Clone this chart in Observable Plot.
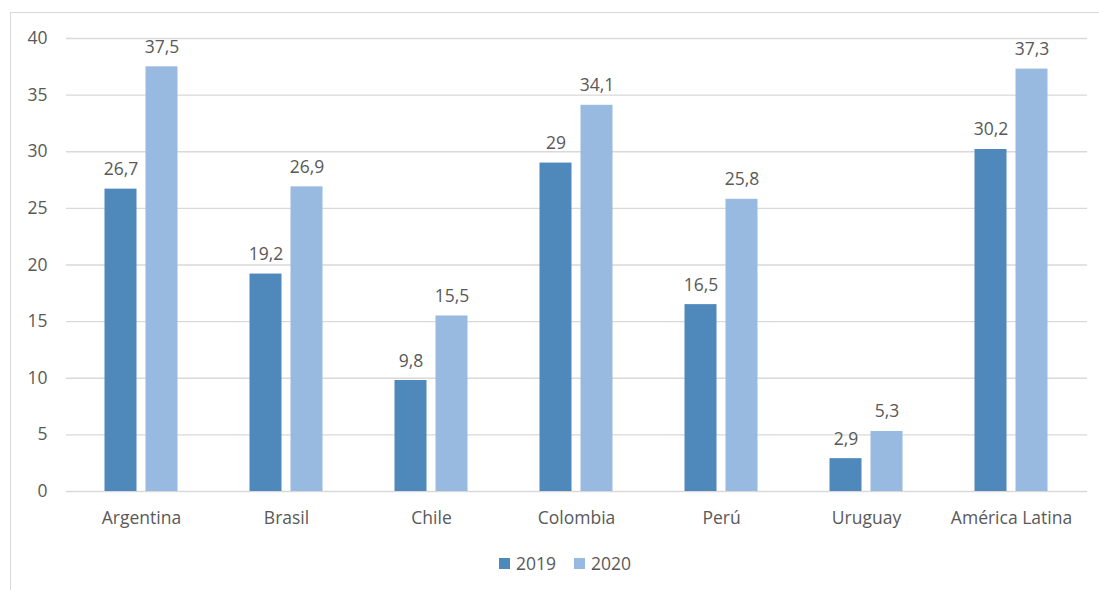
<!DOCTYPE html>
<html>
<head>
<meta charset="utf-8">
<script src="https://cdn.jsdelivr.net/npm/d3@7"></script>
<script src="https://cdn.jsdelivr.net/npm/@observablehq/plot@0.6"></script>
<style>
  html, body { margin: 0; padding: 0; background: #fff; }
  body { width: 1099px; height: 590px; position: relative; overflow: hidden; font-family: "Open Sans", sans-serif; }
  #frame { position: absolute; left: 10px; top: 12px; right: -2px; bottom: -2px; border-left: 1px solid #d9d9d9; border-top: 1px solid #d9d9d9; }
  #chart { position: absolute; left: 0; top: 0; }
  #legend { position: absolute; left: 499px; top: 551px; }
  .lg-swatches { min-height: 0 !important; margin: 0 !important; font-size: 17.5px; color: #595959; font-family: "Open Sans", sans-serif; }
  .lg-swatch { margin-right: 18px !important; }
  .lg-swatch > svg { margin-right: 6px !important; }
</style>
</head>
<body>
<div id="frame"></div>
<div id="chart"></div>
<div id="legend"></div>
<script>
const countries = ["Argentina", "Brasil", "Chile", "Colombia", "Perú", "Uruguay", "América Latina"];
const years = ["2019", "2020"];
const values2019 = [26.7, 19.2, 9.8, 29, 16.5, 2.9, 30.2];
const values2020 = [37.5, 26.9, 15.5, 34.1, 25.8, 5.3, 37.3];
const yTicks = [0, 5, 10, 15, 20, 25, 30, 35, 40];
const colors = ["#4f88bb", "#98b9e0"];

const rows = [];
countries.forEach((c, i) => {
  rows.push({country: c, year: years[0], value: values2019[i]});
  rows.push({country: c, year: years[1], value: values2020[i]});
});
const r2019 = rows.filter(d => d.year === years[0]);
const r2020 = rows.filter(d => d.year === years[1]);
const fmt = v => String(v).replace(".", ",");
const textColor = "#595959";
const off = 20.5;

const chart = Plot.plot({
  width: 1099,
  height: 545,
  marginLeft: 66,
  marginRight: 12,
  marginTop: 38,
  marginBottom: 54,
  style: {fontFamily: "'Open Sans', sans-serif", fontSize: "17.5px", color: textColor, background: "transparent", overflow: "visible"},
  x: {type: "band", domain: countries, paddingInner: 0.777, paddingOuter: 0.3885, label: null},
  y: {domain: [0, 40], label: null},
  color: {domain: years, range: colors},
  marks: [
    Plot.ruleY(yTicks, {stroke: "#d9d9d9", strokeWidth: 1.3}),
    Plot.barY(r2019, {x: "country", y: "value", fill: "year", dx: -off}),
    Plot.barY(r2020, {x: "country", y: "value", fill: "year", dx: off}),
    Plot.text(r2019, {x: "country", y: "value", text: d => fmt(d.value), dx: -off, dy: -14, lineAnchor: "bottom", fill: textColor}),
    Plot.text(r2020, {x: "country", y: "value", text: d => fmt(d.value), dx: off, dy: -14, lineAnchor: "bottom", fill: textColor}),
    Plot.axisY({ticks: yTicks, tickSize: 0, tickPadding: 19, label: null}),
    Plot.axisX({tickSize: 0, tickPadding: 20, label: null})
  ]
});
document.getElementById("chart").appendChild(chart);

const legend = Plot.legend({
  color: {type: "ordinal", domain: years, range: colors},
  swatchSize: 11,
  className: "lg"
});
document.getElementById("legend").appendChild(legend);
</script>
</body>
</html>
